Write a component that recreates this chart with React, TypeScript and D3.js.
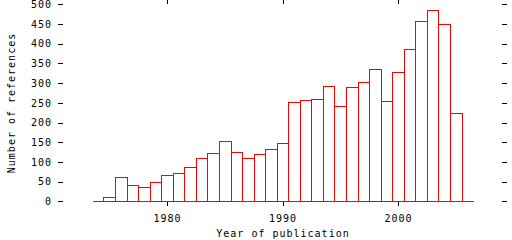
import React from "react";
import * as d3 from "d3";

const years = [1974, 1975, 1976, 1977, 1978, 1979, 1980, 1981, 1982, 1983, 1984, 1985, 1986, 1987, 1988, 1989, 1990, 1991, 1992, 1993, 1994, 1995, 1996, 1997, 1998, 1999, 2000, 2001, 2002, 2003, 2004, 2005, 2006];
const counts = [0, 10, 61, 41, 36, 48, 66, 71, 86, 109, 122, 152, 124, 109, 119, 134, 147, 251, 257, 260, 292, 241, 289, 302, 335, 254, 327, 386, 457, 485, 449, 223, 0];
const yTicks = [0, 50, 100, 150, 200, 250, 300, 350, 400, 450, 500];
const xTicks = [1980, 1990, 2000];

const W = 512;
const H = 240;
const FONT = "'DejaVu Sans Mono', monospace";
const FS = 10;
const LS = 1;

export default function App() {
  const x = d3.scaleLinear().domain([1971, 2009]).range([63, 502]);
  const y = d3.scaleLinear().domain([0, 500]).range([201.3, 4.3]);
  const r = (v: number) => Math.round(v) + 0.5;

  const paths: string[] = [];
  years.forEach((yr, i) => {
    const x0 = r(x(yr - 0.5));
    const x1 = r(x(yr + 0.5));
    const y0 = r(y(0));
    const y1 = r(y(counts[i]));
    paths.push(`M${x0},${y0}V${y1}H${x1}V${y0}Z`);
  });

  const textProps = {
    fontFamily: FONT,
    fontSize: FS,
    letterSpacing: LS,
    fill: "#000",
  };

  return (
    <svg
      width={W}
      height={H}
      style={{ position: "absolute", left: 0, top: 0, background: "#fff" }}
      shapeRendering="crispEdges"
    >
      <rect x={0} y={0} width={W} height={H} fill="#fff" />
      {yTicks.map((t) => (
        <g key={"y" + t}>
          <line x1={58} x2={63} y1={r(y(t))} y2={r(y(t))} stroke="#000" />
          <line x1={502} x2={507} y1={r(y(t))} y2={r(y(t))} stroke="#000" />
          <text x={52} y={y(t) + 3.7} textAnchor="end" {...textProps}>
            {t}
          </text>
        </g>
      ))}
      {xTicks.map((t) => (
        <g key={"x" + t}>
          <line x1={r(x(t))} x2={r(x(t))} y1={0} y2={4} stroke="#000" />
          <line x1={r(x(t))} x2={r(x(t))} y1={201} y2={206} stroke="#000" />
          <text x={x(t) + 0.5} y={221.5} textAnchor="middle" {...textProps}>
            {t}
          </text>
        </g>
      ))}
      <path d={paths.join("")} fill="none" stroke="#ff0000" strokeWidth={1} />
      <text x={283} y={236.5} textAnchor="middle" {...textProps}>
        Year of publication
      </text>
      <text
        transform="translate(14.5,103) rotate(-90)"
        textAnchor="middle"
        {...textProps}
      >
        Number of references
      </text>
    </svg>
  );
}
